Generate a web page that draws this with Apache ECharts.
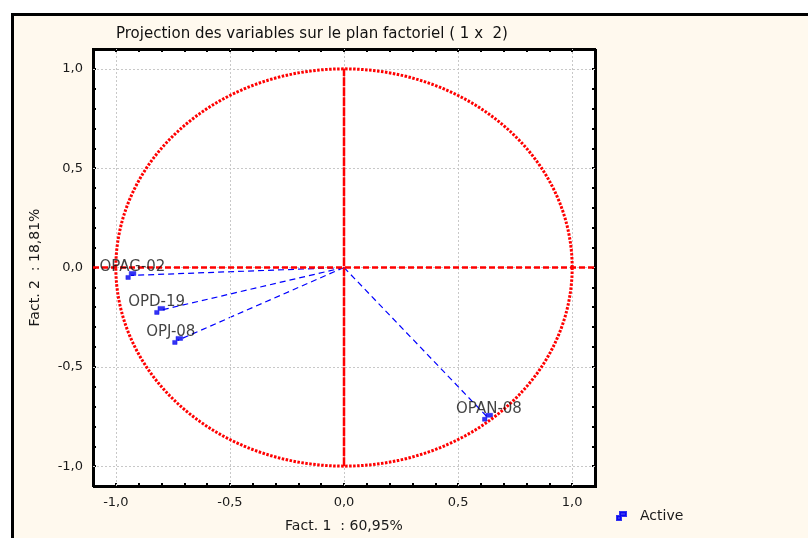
<!DOCTYPE html>
<html><head><meta charset="utf-8">
<script src="https://cdn.jsdelivr.net/npm/echarts@6/dist/echarts.min.js"></script>
<style>
html,body{margin:0;padding:0;background:#fff;overflow:hidden;width:808px;height:538px;}
#frame{position:absolute;left:11px;top:13px;width:820px;height:560px;border:3px solid #000;background:#FFF9EE;}
#chart{position:absolute;left:0;top:0;width:808px;height:538px;}
</style></head><body>
<div id="frame"></div><div id="chart"></div>
<script>
// ---- data ----
const names = ['OPAG-02', 'OPD-19', 'OPJ-08', 'OPAN-08'];
const fact1 = [-0.934, -0.808, -0.729, 0.629];
const fact2 = [-0.040, -0.216, -0.367, -0.754];
const majorTicks = [-1, -0.5, 0, 0.5, 1];
const axisMin = -1.1, axisMax = 1.1, tickStep = 0.1;
const circleRadius = 1;
const hAxisLine = [[-1.1, 0], [1.1, 0]];
const vAxisLine = [[0, -1], [0, 1]];
const titleText = 'Projection des variables sur le plan factoriel ( 1 x  2)';
const xName = 'Fact. 1  : 60,95%';
const yName = 'Fact. 2  : 18,81%';
const seriesName = 'Active';

const FONT = '"DejaVu Sans", Verdana, sans-serif';
const markerPath = 'path://M3,0L9,0L9,4L4,4L4,8L0,8L0,4L3,4Z';

function fmt(v) {
  const k = Math.round(v * 10);
  if (k % 5 !== 0) return '';
  let s = (k / 10).toFixed(1).replace('.', ',');
  if (s === '-0,0') s = '0,0';
  return s;
}
const tickCommon = { show: true, inside: true, length: 3, lineStyle: { color: '#000', width: 2 } };
function axis(pos, extra) {
  return Object.assign({
    type: 'value', min: axisMin, max: axisMax, interval: tickStep, position: pos,
    axisLine: { show: false, onZero: false }, splitLine: { show: false },
    axisTick: tickCommon,
    axisLabel: { show: false }
  }, extra);
}
const labelStyle = { color: '#1a1a1a', fontSize: 13, fontFamily: FONT };
const nameStyle = { color: '#1a1a1a', fontSize: 14, fontFamily: FONT };

const chart = echarts.init(document.getElementById('chart'), null, { renderer: 'canvas' });
const blueLines = names.map((n, i) => ({
  type: 'line', name: 'vec-' + n, xAxisIndex: 0, yAxisIndex: 0,
  data: [[0, 0], [fact1[i], fact2[i]]],
  symbol: 'none', silent: true, z: 3,
  lineStyle: { color: '#0000FF', width: 1.2, type: [6, 4] }
}));

chart.setOption({
  backgroundColor: 'transparent',
  animation: false,
  title: { text: titleText, left: 116, top: 27, padding: 0, textStyle: { fontSize: 15, fontWeight: 'normal', color: '#111', fontFamily: FONT } },
  legend: {
    data: [{ name: seriesName, icon: markerPath }],
    left: 616, top: 509, padding: 0, itemWidth: 9, itemHeight: 8,
    textStyle: { fontSize: 14, color: '#1a1a1a', fontFamily: FONT, padding: [0, 0, 0, 9] }
  },
  grid: { left: 93, top: 49, width: 502, height: 439, show: true, backgroundColor: '#fff', borderColor: '#000', borderWidth: 2,
          shadowColor: '#000', shadowOffsetX: 1, shadowOffsetY: 1, shadowBlur: 0 },
  xAxis: [
    axis('bottom', { axisLabel: Object.assign({ show: true, formatter: fmt, margin: 10 }, labelStyle),
      name: xName, nameLocation: 'middle', nameGap: 33, nameTextStyle: nameStyle }),
    axis('top', {})
  ],
  yAxis: [
    axis('left', { axisLabel: Object.assign({ show: true, formatter: fmt, margin: 10 }, labelStyle),
      name: yName, nameLocation: 'middle', nameGap: 51, nameTextStyle: nameStyle }),
    axis('right', {})
  ],
  series: [
    {
      type: 'line', name: 'grid', data: [], silent: true, z: 1,
      markLine: {
        silent: true, symbol: 'none', label: { show: false },
        lineStyle: { color: '#c8c8c8', type: [2, 2], width: 1 },
        data: majorTicks.map(v => ({ xAxis: v })).concat(majorTicks.map(v => ({ yAxis: v })))
      }
    },
    ...blueLines,
    {
      type: 'scatter', name: seriesName, z: 4,
      data: fact1.map((x, i) => [x, fact2[i]]),
      symbol: markerPath, symbolSize: [10, 9], symbolKeepAspect: true,
      itemStyle: { color: '#0000F0', borderColor: '#0000F0', borderWidth: 0.5 }
    },
    {
      type: 'custom', name: 'circle', silent: true, z: 5,
      data: [[0, 0, circleRadius]],
      renderItem: (params, api) => {
        const r = api.value(2);
        const pts = [];
        for (let i = 0; i <= 360; i++) {
          const a = i * Math.PI / 180;
          pts.push(api.coord([api.value(0) + r * Math.cos(a), api.value(1) + r * Math.sin(a)]));
        }
        return { type: 'polyline', shape: { points: pts }, style: { stroke: '#FF0000', lineWidth: 3, lineDash: [2.5, 1.5], fill: null } };
      }
    },
    {
      type: 'line', name: 'h0', data: hAxisLine, symbol: 'none', silent: true, z: 6,
      lineStyle: { color: '#FF0000', width: 2.5, type: [6, 3] }
    },
    {
      type: 'line', name: 'v0', data: vAxisLine, symbol: 'none', silent: true, z: 6,
      lineStyle: { color: '#FF0000', width: 2.5, type: [9, 1] }
    },
    {
      type: 'scatter', name: 'labels', z: 10, silent: true,
      data: fact1.map((x, i) => ({ value: [x, fact2[i]], name: names[i] })),
      symbol: 'rect', symbolSize: [9, 8], itemStyle: { color: 'rgba(0,0,0,0)' },
      label: { show: true, formatter: p => p.name, position: [-27, -4], align: 'left', verticalAlign: 'middle',
               color: '#111', fontSize: 15, fontFamily: FONT }
    }
  ]
});
</script>
</body></html>
